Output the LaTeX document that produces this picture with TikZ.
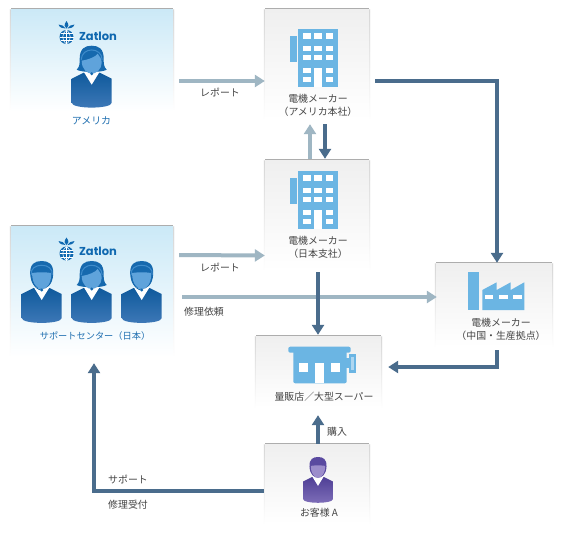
\documentclass[tikz,border=0pt]{standalone}
\usepackage{fontspec}
\setmainfont{Noto Sans CJK JP}
\newfontfamily\logofont{Poppins}
\usetikzlibrary{arrows.meta}
\definecolor{lightarrow}{HTML}{9FB6C3}
\definecolor{darkarrow}{HTML}{4A6C8C}
\definecolor{iconblue}{HTML}{6BB5E3}
\definecolor{logoblue}{HTML}{0F68B0}
\definecolor{txtblue}{HTML}{1F6FB0}
\definecolor{txtgray}{HTML}{444444}
\definecolor{HTMLtopblue}{HTML}{CBE9F7}
\definecolor{HTMLtopgray}{HTML}{EFEFEF}
\definecolor{bodytop}{HTML}{0F5A9C}
\definecolor{bodybot}{HTML}{3F79B8}
\definecolor{hairblue}{HTML}{1669AE}
\definecolor{bandblue}{HTML}{3F8CCB}
\definecolor{faceblue}{HTML}{5FA3DB}
\tikzset{
  panelblue/.style={rectangle,inner sep=0pt,rounded corners=2pt,top color=HTMLtopblue,bottom color=white},
  panelgray/.style={rectangle,inner sep=0pt,rounded corners=2pt,top color=HTMLtopgray,bottom color=white},
  rim/.style={draw=black!32,line width=1pt},
  lightflow/.style={draw=lightarrow,line width=4pt,-{Triangle[width=12pt,length=10pt]},line join=miter},
  darkflow/.style={draw=darkarrow,line width=4pt,-{Triangle[width=12pt,length=10pt]},line join=miter},
  captxt/.style={inner sep=0pt,text=txtgray,font=\fontsize{9.9}{11}\selectfont},
  capblue/.style={inner sep=0pt,text=txtblue,font=\fontsize{9.9}{11}\selectfont},
  icon/.style={fill=iconblue,draw=none},
  hole/.style={fill=white,draw=none},
  logotxt/.style={inner sep=0pt,text=logoblue,font=\logofont\bfseries\fontsize{11.5}{12}\selectfont},
}
\newcommand\malefig[7]{%
\begin{scope}[shift={(#1,#2)},scale=#3]
  \shade[top color=#4,bottom color=#5] (-20,33) -- (-8,27) -- (8,27) -- (20,33) -- (20,57) .. controls (20,63.5) and (-20,63.5) .. (-20,57) -- cycle;
  \fill[white] (-8,26) -- (8,26) -- (0,39) -- cycle;
  \fill[#6] (-11.5,13) .. controls (-12,3) and (-7,0) .. (0,0) .. controls (7,0) and (12,3) .. (11.5,13) .. controls (11,24) and (5,28) .. (0,28) .. controls (-5,28) and (-11,24) .. (-11.5,13) -- cycle;
  \fill[#7] (-9.5,12) .. controls (-3,11) and (3,11) .. (9.5,12) .. controls (10,22) and (5,28) .. (0,28) .. controls (-5,28) and (-10,22) .. (-9.5,12) -- cycle;
\end{scope}}
\newcommand\phones[2]{%
\begin{scope}[shift={(#1,#2)}]
  \draw[bandblue,line width=1pt] (-10.5,14) .. controls (-12.5,1) and (12.5,1) .. (10.5,14);
  \draw[hairblue,line width=.8pt] (-10,17) .. controls (-8,27) and (-3,29) .. (0,29);
  \fill[hairblue] (0,29) circle (1.6);
\end{scope}}
\newcommand\femalefig[2]{%
\begin{scope}[shift={(#1,#2)}]
  \shade[top color=bodytop,bottom color=bodybot] (-20,33) -- (-8,27) -- (8,27) -- (20,33) -- (20,57) .. controls (20,63.5) and (-20,63.5) .. (-20,57) -- cycle;
  \fill[white] (-8,26) -- (8,26) -- (0,39) -- cycle;
  \fill[hairblue] (-12,13) .. controls (-12,3) and (-7,0) .. (0,0) .. controls (7,0) and (12,3) .. (12,13) .. controls (12,18) and (12,21) .. (15,24) .. controls (10,27) and (-10,27) .. (-15,24) .. controls (-12,21) and (-12,18) .. (-12,13) -- cycle;
  \draw[bandblue,line width=1pt] (-10.5,14) .. controls (-10,1) and (10,1) .. (10.5,14);
  \fill[faceblue] (-10,15) .. controls (-3,14) and (4,11) .. (6,8) .. controls (8,11) and (10,13) .. (10,17) .. controls (10,24) and (4,28) .. (0,28) .. controls (-4,28) and (-10,24) .. (-10,15) -- cycle;
  \fill[hairblue] (0,28) circle (1.6);
\end{scope}}
\newcommand\logofig[2]{%
\begin{scope}[shift={(#1,#2)}]
  \fill[logoblue] (0,-13) .. controls (-3,-9) and (-2,-7) .. (0,-5.5) .. controls (2,-7) and (3,-9) .. (0,-13) -- cycle;
  \fill[logoblue] (-8,-9.5) .. controls (-7,-6) and (-3,-5.5) .. (-1,-5.5) .. controls (-2,-8) and (-5,-9.5) .. (-8,-9.5) -- cycle;
  \fill[logoblue] (8,-9.5) .. controls (7,-6) and (3,-5.5) .. (1,-5.5) .. controls (2,-8) and (5,-9.5) .. (8,-9.5) -- cycle;
  \fill[logoblue] (0,3) circle (7);
  \draw[white,line width=.55pt] (0,-4) -- (0,10) (-7,3) -- (7,3) (-6,-.3) -- (6,-.3) (-6,6.3) -- (6,6.3);
  \draw[white,line width=.55pt] (0,-4) .. controls (-5,-1) and (-5,7) .. (0,10) (0,-4) .. controls (5,-1) and (5,7) .. (0,10);
\end{scope}}
\newcommand\towerfig[2]{%
\begin{scope}[shift={(#1,#2)}]
  \fill[icon] (0,6.7) rectangle (6.7,32.7);
  \fill[icon] (8.3,0) rectangle (47.7,57.7);
  \foreach \cx in {13.3,24.3,35.7}{
    \foreach \cy in {4.3,17,26}{\fill[hole] (\cx,\cy) rectangle ++(7.3,5.3);}
    }
  \foreach \cx in {13.3,35.7}{\foreach \cy in {38.7,47.7}{\fill[hole] (\cx,\cy) rectangle ++(7.3,5.3);}}
  \fill[hole] (24.3,38.7) rectangle (31.6,57.7);
\end{scope}}
\begin{document}
\begin{tikzpicture}[x=1pt,y=-1pt]
\useasboundingbox (0,0) rectangle (565,544);
\fill[white] (0,0) rectangle (565,544);
% panels
\node[panelblue,minimum width=164pt,minimum height=102pt] (amer) at (92,60) {};
\node[panelgray,minimum width=106pt,minimum height=111pt] (hq) at (317,64.5) {};
\node[panelgray,minimum width=106pt,minimum height=111pt] (jp) at (317,215.5) {};
\node[panelblue,minimum width=164pt,minimum height=131pt] (sup) at (92,291.5) {};
\node[panelgray,minimum width=118pt,minimum height=84pt] (fac) at (494,305) {};
\node[panelgray,minimum width=127pt,minimum height=72pt] (shop) at (318.5,372) {};
\node[panelgray,minimum width=106pt,minimum height=80pt] (cust) at (317,484) {};
\foreach \n in {amer,hq,jp,sup,fac,shop,cust}{
  \shade[top color=black!16,bottom color=white] ([yshift=-1pt]\n.north west) rectangle ([xshift=.8pt]\n.south west);
  \shade[top color=black!16,bottom color=white] ([yshift=-1pt]\n.north east) rectangle ([xshift=-.8pt]\n.south east);
  \draw[rim] ([xshift=1.5pt]\n.north west) -- ([xshift=-1.5pt]\n.north east);
}
% logos and people
\logofig{66.5}{34}
\node[logotxt] (logoa) at (98,36) {Zatlon};
\logofig{66.5}{250.5}
\node[logotxt] (logob) at (98,251.5) {Zatlon};
\femalefig{91.7}{45.7}
\femalefig{91.7}{261}
\malefig{41.7}{261}{1}{bodytop}{bodybot}{hairblue}{faceblue}
\malefig{141.7}{261}{1}{bodytop}{bodybot}{hairblue}{faceblue}
\phones{41.7}{261}
\phones{141.7}{261}
\definecolor{custdark}{HTML}{4F3F96}
\definecolor{custlight}{HTML}{7F6FB9}
\definecolor{custhair}{HTML}{5A4AA0}
\definecolor{custface}{HTML}{9C8DCB}
\malefig{318}{457}{.74}{custdark}{custlight}{custhair}{custface}
% icons
\towerfig{290}{29}
\towerfig{290}{171}
% factory
\fill[icon] (468.3,272.3) rectangle (479.3,310);
\fill[icon] (482.3,290) -- (496.7,282.3) -- (496.7,290) -- (510.7,282.3) -- (510.7,290) -- (524.3,282.3) -- (524.3,310) -- (482.3,310) -- cycle;
\fill[hole] (485,295) rectangle (493.3,299);
\fill[hole] (499,295) rectangle (507.7,299);
\fill[hole] (513.3,295) rectangle (522,299);
% shop
\fill[icon,rounded corners=2pt] (288.3,346.7) rectangle (350.7,352.7);
\fill[icon,rounded corners=2pt] (293.3,350) rectangle (346.7,383.3);
\fill[icon] (346,358) rectangle (350,368);
\fill[icon] (349,354.3) rectangle (355.7,372.7);
\fill[hole] (299.3,363.3) rectangle (308.3,372.3);
\fill[hole] (315,363.3) rectangle (324,383.3);
\fill[hole] (331,363.3) rectangle (340,372.3);
\fill[iconblue!55!white] (351,357) rectangle (353.5,370);
% captions
\node[capblue] (t1) at (91.5,121) {アメリカ};
\node[capblue,font=\fontsize{9.2}{11}\selectfont] (t2) at (95,336) {サポートセンター（日本）};
\node[captxt] (t3) at (318,99) {電機メーカー};
\node[captxt] (t4) at (318,112) {（アメリカ本社）};
\node[captxt] (t5) at (318,241) {電機メーカー};
\node[captxt] (t6) at (318,254) {（日本支社）};
\node[captxt] (t7) at (501,323) {電機メーカー};
\node[captxt] (t8) at (501,336) {（中国・生産拠点）};
\node[captxt] (t9) at (324,397) {量販店／大型スーパー};
\node[captxt] (t10) at (319,513) {お客様 A};
\node[captxt] (t11) at (220,93) {レポート};
\node[captxt] (t12) at (220,268) {レポート};
\node[captxt] (t13) at (204,312) {修理依頼};
\node[captxt] (t14) at (337,432) {購入};
\node[captxt] (t15) at (128,480) {サポート};
\node[captxt] (t16) at (128,505) {修理受付};
% connectors
\draw[lightflow] ([shift={(5,21)}]amer.east) -- ([shift={(1,16.5)}]hq.west);
\draw[lightflow] ([shift={(-7,-1)}]jp.north) -- ([shift={(-7,4)}]hq.south);
\draw[darkflow] ([shift={(8,4)}]hq.south) -- ([shift={(8,-1)}]jp.north);
\draw[darkflow] ([shift={(5,16.5)}]hq.east) -| ([xshift=3pt]fac.north);
\draw[lightflow] ([shift={(5,-36.5)}]sup.east) -- ([shift={(1,40)}]jp.west);
\draw[lightflow] ([shift={(8,5.5)}]sup.east) -- ([shift={(2,-8)}]fac.west);
\draw[darkflow] ([shift={(1,1)}]jp.south) -- ([shift={(-.5,-1)}]shop.north);
\draw[darkflow] ([shift={(3,3)}]fac.south) |- ([shift={(6,-5)}]shop.east);
\draw[darkflow] ([xshift=1pt]cust.north) -- ([shift={(-.5,7)}]shop.south);
\draw[darkflow] ([shift={(0,7)}]cust.west) -| ([shift={(2,6)}]sup.south);
\end{tikzpicture}
\end{document}
